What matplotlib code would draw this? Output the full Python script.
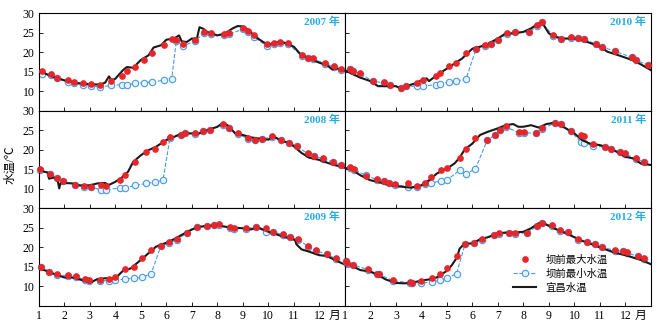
import matplotlib
matplotlib.use('Agg')
import matplotlib.pyplot as plt

plt.rcParams['font.family'] = ['Liberation Serif', 'Noto Sans CJK SC']
plt.rcParams['axes.unicode_minus'] = False

# 宜昌水温 (daily curve, read at irregular months)
yc_2007_m = [1.0, 1.5, 2.0, 2.5, 3.0, 3.4, 3.6, 3.75, 3.85, 4.0, 4.3, 4.45, 4.7, 5.0, 5.3, 5.5, 5.8, 6.0, 6.3, 6.5, 6.6, 6.8, 7.0, 7.2, 7.3, 7.45, 7.6, 8.0, 8.3, 8.6, 8.8, 9.0, 9.2, 9.5, 9.8, 10.0, 10.3, 10.6, 11.0, 11.3, 11.6, 12.0, 12.3, 12.5, 12.7, 13.0]
yc_2007_t = [15.3, 13.8, 12.8, 12.1, 11.8, 11.7, 12.2, 13.8, 12.8, 13.2, 15.4, 16.2, 16.0, 18.0, 19.2, 21.2, 21.8, 23.2, 23.5, 24.3, 22.8, 22.6, 23.5, 23.5, 26.4, 26.0, 25.2, 24.3, 24.8, 26.1, 26.7, 26.6, 25.8, 23.9, 22.6, 21.9, 22.6, 22.5, 21.4, 19.2, 18.4, 17.3, 16.7, 15.6, 15.8, 15.3]

yc_2008_m = [1.0, 1.2, 1.35, 1.4, 1.6, 1.75, 1.8, 1.85, 2.0, 2.3, 2.6, 3.0, 3.3, 3.6, 3.75, 4.0, 4.3, 4.5, 4.7, 5.0, 5.3, 5.6, 6.0, 6.3, 6.6, 7.0, 7.3, 7.6, 8.0, 8.2, 8.4, 8.7, 9.0, 9.3, 9.6, 10.0, 10.2, 10.5, 10.8, 11.0, 11.3, 11.6, 12.0, 12.3, 12.6, 13.0]
yc_2008_t = [15.2, 14.4, 14.2, 12.6, 12.9, 11.8, 10.1, 11.4, 11.5, 11.4, 10.9, 10.9, 11.4, 11.5, 11.0, 11.8, 13.1, 14.4, 16.9, 18.6, 19.9, 20.8, 22.5, 23.3, 24.2, 24.2, 24.2, 25.0, 25.9, 26.8, 26.3, 24.2, 23.8, 23.2, 22.9, 22.6, 23.5, 22.3, 21.8, 20.9, 19.2, 18.0, 17.4, 16.7, 16.1, 15.4]

yc_2009_m = [1.0, 1.3, 1.6, 2.0, 2.3, 2.6, 2.9, 3.0, 3.3, 3.6, 4.0, 4.3, 4.6, 5.0, 5.3, 5.6, 6.0, 6.3, 6.6, 7.0, 7.3, 7.6, 8.0, 8.3, 8.6, 9.0, 9.3, 9.6, 10.0, 10.3, 10.6, 10.9, 11.05, 11.1, 11.3, 11.6, 12.0, 12.3, 12.6, 13.0]
yc_2009_t = [14.6, 14.0, 13.2, 12.3, 12.3, 11.8, 11.2, 10.9, 11.9, 12.1, 12.1, 14.0, 14.6, 16.8, 18.5, 20.2, 21.2, 22.1, 23.2, 24.6, 25.3, 25.5, 25.7, 25.3, 25.1, 24.9, 24.6, 25.1, 24.0, 23.4, 22.7, 22.3, 21.8, 20.8, 19.5, 18.9, 18.0, 17.8, 16.8, 15.6]

yc_2010_m = [1.0, 1.3, 1.6, 2.0, 2.3, 2.6, 3.0, 3.2, 3.5, 3.8, 4.0, 4.2, 4.3, 4.6, 5.0, 5.3, 5.6, 5.8, 6.0, 6.3, 6.6, 7.0, 7.3, 7.6, 8.0, 8.3, 8.6, 8.8, 9.0, 9.2, 9.5, 10.0, 10.3, 10.6, 11.0, 11.3, 11.6, 12.0, 12.3, 12.6, 13.0]
yc_2010_t = [15.4, 14.4, 13.5, 12.6, 11.3, 11.3, 11.3, 10.7, 11.5, 12.1, 12.8, 13.3, 12.6, 14.1, 15.8, 17.1, 18.4, 19.7, 20.9, 21.4, 22.1, 23.5, 24.8, 24.8, 25.2, 26.1, 27.4, 26.9, 24.8, 24.1, 23.5, 23.5, 23.1, 22.4, 21.4, 20.1, 19.5, 18.6, 17.9, 16.9, 15.4]

yc_2011_m = [1.0, 1.3, 1.6, 2.0, 2.3, 2.6, 3.0, 3.3, 3.6, 4.0, 4.3, 4.6, 5.0, 5.3, 5.5, 5.7, 6.0, 6.3, 6.6, 7.0, 7.3, 7.6, 7.8, 8.0, 8.3, 8.6, 8.9, 9.2, 9.5, 10.0, 10.3, 10.6, 11.0, 11.3, 11.6, 12.0, 12.3, 12.6, 13.0]
yc_2011_t = [15.4, 14.8, 13.5, 12.2, 11.8, 11.2, 10.7, 10.5, 10.3, 10.9, 12.2, 13.9, 15.2, 16.5, 18.0, 20.1, 21.6, 23.8, 24.6, 25.5, 26.3, 26.6, 25.9, 25.9, 26.3, 25.7, 26.6, 26.9, 26.1, 24.2, 22.5, 21.6, 21.2, 20.6, 19.7, 18.2, 17.8, 16.5, 16.1]

yc_2012_m = [1.0, 1.3, 1.6, 2.0, 2.3, 2.6, 3.0, 3.3, 3.6, 4.0, 4.3, 4.6, 5.0, 5.2, 5.4, 5.5, 5.7, 6.0, 6.3, 6.6, 7.0, 7.3, 7.6, 8.0, 8.3, 8.6, 8.8, 9.0, 9.3, 9.6, 10.0, 10.3, 10.6, 11.0, 11.3, 11.6, 12.0, 12.3, 12.6, 13.0]
yc_2012_t = [15.9, 15.2, 14.2, 13.8, 12.9, 11.8, 10.9, 10.8, 10.9, 11.5, 11.8, 12.3, 14.0, 15.5, 17.5, 19.7, 21.0, 21.0, 22.1, 22.6, 23.6, 23.8, 23.8, 24.0, 24.9, 26.2, 26.2, 25.5, 24.6, 23.8, 22.6, 21.7, 21.0, 20.0, 19.3, 18.6, 18.0, 17.4, 16.8, 15.7]

# 坝前测次 (month), 坝前最大水温, 坝前最小水温
d_2007 = [1.13, 1.46, 1.70, 2.13, 2.37, 2.75, 3.04, 3.41, 3.84, 4.26, 4.46, 4.79, 5.12, 5.45, 5.91, 6.21, 6.39, 6.67, 7.13, 7.47, 7.75, 8.28, 8.47, 9.0, 9.2, 9.42, 9.95, 10.22, 10.45, 10.78, 11.3, 11.54, 11.76, 12.22, 12.59, 12.86]
max_2007 = [15.2, 14.4, 13.5, 12.8, 12.4, 12.1, 11.8, 11.5, 12.6, 13.8, 15.2, 16.2, 18.1, 19.7, 21.8, 23.5, 23.1, 22.2, 23.1, 25.2, 24.8, 24.6, 25.0, 26.3, 25.4, 24.4, 22.0, 22.4, 22.6, 22.4, 19.2, 18.6, 18.4, 17.3, 16.4, 15.6]
min_2007 = [14.4, 14.1, 13.3, 12.4, 12.1, 11.6, 11.4, 11.1, 11.5, 11.7, 11.7, 12.0, 12.2, 12.4, 12.8, 13.1, 22.9, 21.6, 22.9, 24.8, 24.6, 24.3, 24.6, 25.9, 25.1, 24.0, 21.5, 22.0, 22.4, 22.2, 19.0, 18.4, 18.2, 17.1, 16.2, 15.4]

d_2008 = [1.04, 1.43, 1.72, 1.96, 2.43, 2.78, 3.04, 3.45, 3.64, 4.17, 4.39, 4.79, 5.21, 5.54, 5.87, 6.14, 6.57, 6.74, 7.12, 7.43, 7.71, 8.21, 8.45, 8.80, 9.20, 9.49, 9.75, 10.14, 10.49, 10.80, 11.13, 11.54, 11.80, 12.16, 12.55, 12.86]
max_2008 = [15.0, 13.9, 12.9, 12.1, 11.0, 10.7, 10.5, 10.9, 10.7, 12.2, 13.5, 16.9, 19.5, 20.3, 22.1, 23.2, 23.8, 24.4, 24.2, 24.8, 25.2, 26.5, 25.6, 24.2, 22.9, 22.6, 22.8, 23.5, 22.5, 21.8, 21.0, 19.1, 18.4, 17.8, 16.9, 16.1]
min_2008 = [14.9, 13.8, 12.8, 12.0, 10.9, 10.6, 10.4, 9.8, 9.8, 10.2, 10.3, 10.9, 11.4, 11.7, 12.2, 23.0, 23.7, 24.3, 24.1, 24.7, 25.1, 26.4, 25.5, 24.1, 22.8, 22.5, 22.7, 23.4, 22.4, 21.7, 20.9, 19.0, 18.3, 17.7, 16.8, 16.0]

d_2009 = [1.08, 1.39, 1.72, 2.13, 2.45, 2.82, 2.95, 3.41, 3.74, 4.0, 4.39, 4.72, 5.03, 5.41, 5.78, 6.11, 6.43, 6.8, 7.2, 7.58, 7.88, 8.08, 8.51, 8.67, 9.11, 9.5, 9.89, 10.18, 10.58, 10.84, 11.17, 11.57, 11.86, 12.29, 12.66]
max_2009 = [14.9, 13.8, 13.3, 12.9, 12.6, 11.8, 11.6, 11.6, 12.0, 12.3, 14.4, 15.0, 17.2, 19.3, 20.4, 21.3, 22.1, 23.8, 25.3, 25.5, 25.8, 25.9, 25.1, 24.9, 24.9, 25.3, 25.0, 24.0, 23.4, 22.7, 22.1, 20.3, 19.3, 18.3, 17.2]
min_2009 = [15.1, 13.7, 13.0, 12.7, 12.4, 11.7, 11.5, 11.5, 11.5, 11.6, 11.9, 12.1, 12.3, 13.3, 20.3, 21.2, 22.0, 23.7, 25.2, 25.4, 25.7, 25.8, 25.0, 24.8, 24.8, 25.2, 24.0, 23.9, 23.3, 22.6, 22.0, 20.2, 19.2, 18.2, 17.1]

d_2010 = [1.2, 1.3, 1.61, 2.11, 2.53, 2.76, 3.22, 3.39, 3.81, 4.07, 4.57, 4.73, 5.09, 5.35, 5.75, 6.14, 6.5, 6.71, 6.99, 7.34, 7.68, 8.23, 8.54, 8.71, 9.17, 9.46, 9.85, 10.15, 10.37, 10.83, 11.1, 11.61, 12.24, 12.41, 12.9]
max_2010 = [15.8, 15.3, 14.7, 12.6, 12.3, 11.7, 10.9, 11.4, 12.2, 12.8, 13.8, 14.7, 16.4, 17.3, 19.9, 20.9, 21.8, 22.1, 23.2, 24.8, 25.2, 25.2, 26.9, 27.8, 24.3, 23.4, 23.8, 23.7, 23.5, 22.2, 21.4, 20.3, 18.8, 18.1, 16.7]
min_2010 = [15.6, 15.1, 14.5, 12.5, 12.2, 11.6, 10.8, 11.3, 11.3, 11.3, 11.7, 11.8, 12.4, 12.6, 13.1, 20.8, 21.7, 22.0, 23.1, 24.7, 25.1, 25.1, 26.8, 27.7, 24.2, 23.3, 23.7, 23.6, 23.4, 22.1, 21.3, 20.2, 18.7, 18.0, 16.6]

d_2011 = [1.2, 1.35, 1.81, 2.27, 2.53, 2.74, 2.96, 3.46, 3.84, 4.16, 4.37, 4.76, 4.99, 5.51, 5.75, 6.12, 6.58, 6.88, 7.08, 7.3, 7.82, 8.02, 8.48, 8.71, 9.24, 9.46, 9.85, 10.24, 10.37, 10.74, 11.2, 11.43, 11.78, 11.98, 12.41, 12.74]
max_2011 = [15.5, 15.0, 13.2, 12.5, 12.1, 11.5, 11.2, 11.5, 10.8, 11.5, 13.1, 14.8, 15.4, 17.9, 20.1, 22.9, 22.6, 23.9, 25.2, 26.0, 24.6, 24.6, 24.4, 25.5, 26.9, 26.7, 24.9, 23.9, 23.5, 21.6, 20.8, 20.3, 19.5, 19.1, 17.8, 16.9]
min_2011 = [15.4, 14.9, 13.5, 12.3, 12.0, 11.4, 11.1, 10.6, 10.4, 11.2, 11.4, 12.1, 12.2, 14.8, 13.8, 15.2, 22.4, 23.8, 25.1, 25.9, 24.4, 24.4, 24.2, 25.4, 26.8, 26.6, 24.8, 22.1, 21.8, 21.0, 20.7, 20.2, 19.4, 19.0, 17.7, 16.8]

d_2012 = [1.03, 1.09, 1.33, 1.92, 2.27, 2.35, 2.87, 3.55, 3.65, 3.97, 4.4, 4.73, 5.01, 5.38, 5.71, 6.06, 6.36, 6.86, 7.05, 7.44, 7.68, 8.15, 8.52, 8.71, 9.11, 9.43, 9.76, 10.15, 10.48, 10.8, 11.1, 11.58, 11.89, 12.05, 12.5, 12.74]
max_2012 = [16.5, 15.9, 15.6, 14.4, 13.3, 13.2, 11.6, 11.2, 11.0, 11.5, 12.1, 13.3, 14.8, 17.9, 20.9, 21.2, 22.1, 23.2, 23.6, 23.8, 23.6, 23.8, 25.5, 26.3, 25.7, 24.4, 24.0, 22.1, 21.5, 21.0, 20.2, 19.3, 19.1, 18.7, 17.8, 17.2]
min_2012 = [16.4, 15.8, 15.5, 14.3, 13.2, 13.1, 11.5, 10.9, 10.8, 10.8, 11.2, 11.6, 12.1, 13.3, 20.8, 21.1, 22.0, 23.1, 23.5, 23.7, 23.5, 23.7, 25.4, 26.2, 25.6, 24.3, 23.9, 22.0, 21.4, 20.9, 20.1, 19.2, 19.0, 18.6, 17.7, 17.1]

years = [2007, 2010, 2008, 2011, 2009, 2012]   # panel order: row by row
yc_m = {2007: yc_2007_m, 2008: yc_2008_m, 2009: yc_2009_m, 2010: yc_2010_m, 2011: yc_2011_m, 2012: yc_2012_m}
yc_t = {2007: yc_2007_t, 2008: yc_2008_t, 2009: yc_2009_t, 2010: yc_2010_t, 2011: yc_2011_t, 2012: yc_2012_t}
dates = {2007: d_2007, 2008: d_2008, 2009: d_2009, 2010: d_2010, 2011: d_2011, 2012: d_2012}
tmax = {2007: max_2007, 2008: max_2008, 2009: max_2009, 2010: max_2010, 2011: max_2011, 2012: max_2012}
tmin = {2007: min_2007, 2008: min_2008, 2009: min_2009, 2010: min_2010, 2011: min_2011, 2012: min_2012}

month_ticks = list(range(1, 13))
y_ticks = [5, 10, 15, 20, 25, 30]

fig, axes = plt.subplots(3, 2, figsize=(6.69, 3.29), dpi=100, sharex=True, sharey=True)
fig.subplots_adjust(left=0.058, right=0.973, top=0.96, bottom=0.07, wspace=0, hspace=0)

for ax, yr in zip(axes.flat, years):
    ax.plot(dates[yr], tmin[yr], ls='--', lw=0.8, color='#4a9be0', marker='o', ms=4.6,
            mfc='#e6f3fc', mec='#4a9be0', mew=0.8, zorder=2, clip_on=False, label='坝前最小水温')
    ax.plot(yc_m[yr], yc_t[yr], color='#1a1a1a', lw=1.5, zorder=3, label='宜昌水温')
    ax.plot(dates[yr], tmax[yr], ls='none', marker='o', ms=3.8, color='#e8262a', zorder=4,
            clip_on=False, label='坝前最大水温')
    ax.text(0.985, 0.91, f'{yr} 年', transform=ax.transAxes, ha='right', va='center',
            color='#29abe2', fontsize=8, fontweight='bold')
    ax.set_xlim(1, 13)
    ax.set_ylim(5, 30)
    ax.set_yticks(y_ticks)
    ax.set_xticks(month_ticks + [12.6])
    ax.set_xticklabels([str(m) for m in month_ticks] + ['月'])
    ax.xaxis.get_major_ticks()[-1].tick1line.set_visible(False)
    ax.tick_params(direction='in', length=3, width=0.6, labelsize=8.5, pad=3)
    for s in ax.spines.values():
        s.set_linewidth(0.8)

for ax in axes[:2, 0]:
    ax.set_yticklabels([''] + [str(v) for v in y_ticks[1:]])

h, l = axes[2, 1].get_legend_handles_labels()
order = [2, 0, 1]
axes[2, 1].legend([h[i] for i in order], [l[i] for i in order], loc='lower left',
                  bbox_to_anchor=(0.52, 0.04), frameon=False, fontsize=7.5,
                  handlelength=2.2, labelspacing=0.35, handletextpad=0.9)

fig.text(0.016, 0.5, '水温/℃', rotation=90, ha='center', va='center', fontsize=8.5)

plt.savefig('out.png', dpi=100)
